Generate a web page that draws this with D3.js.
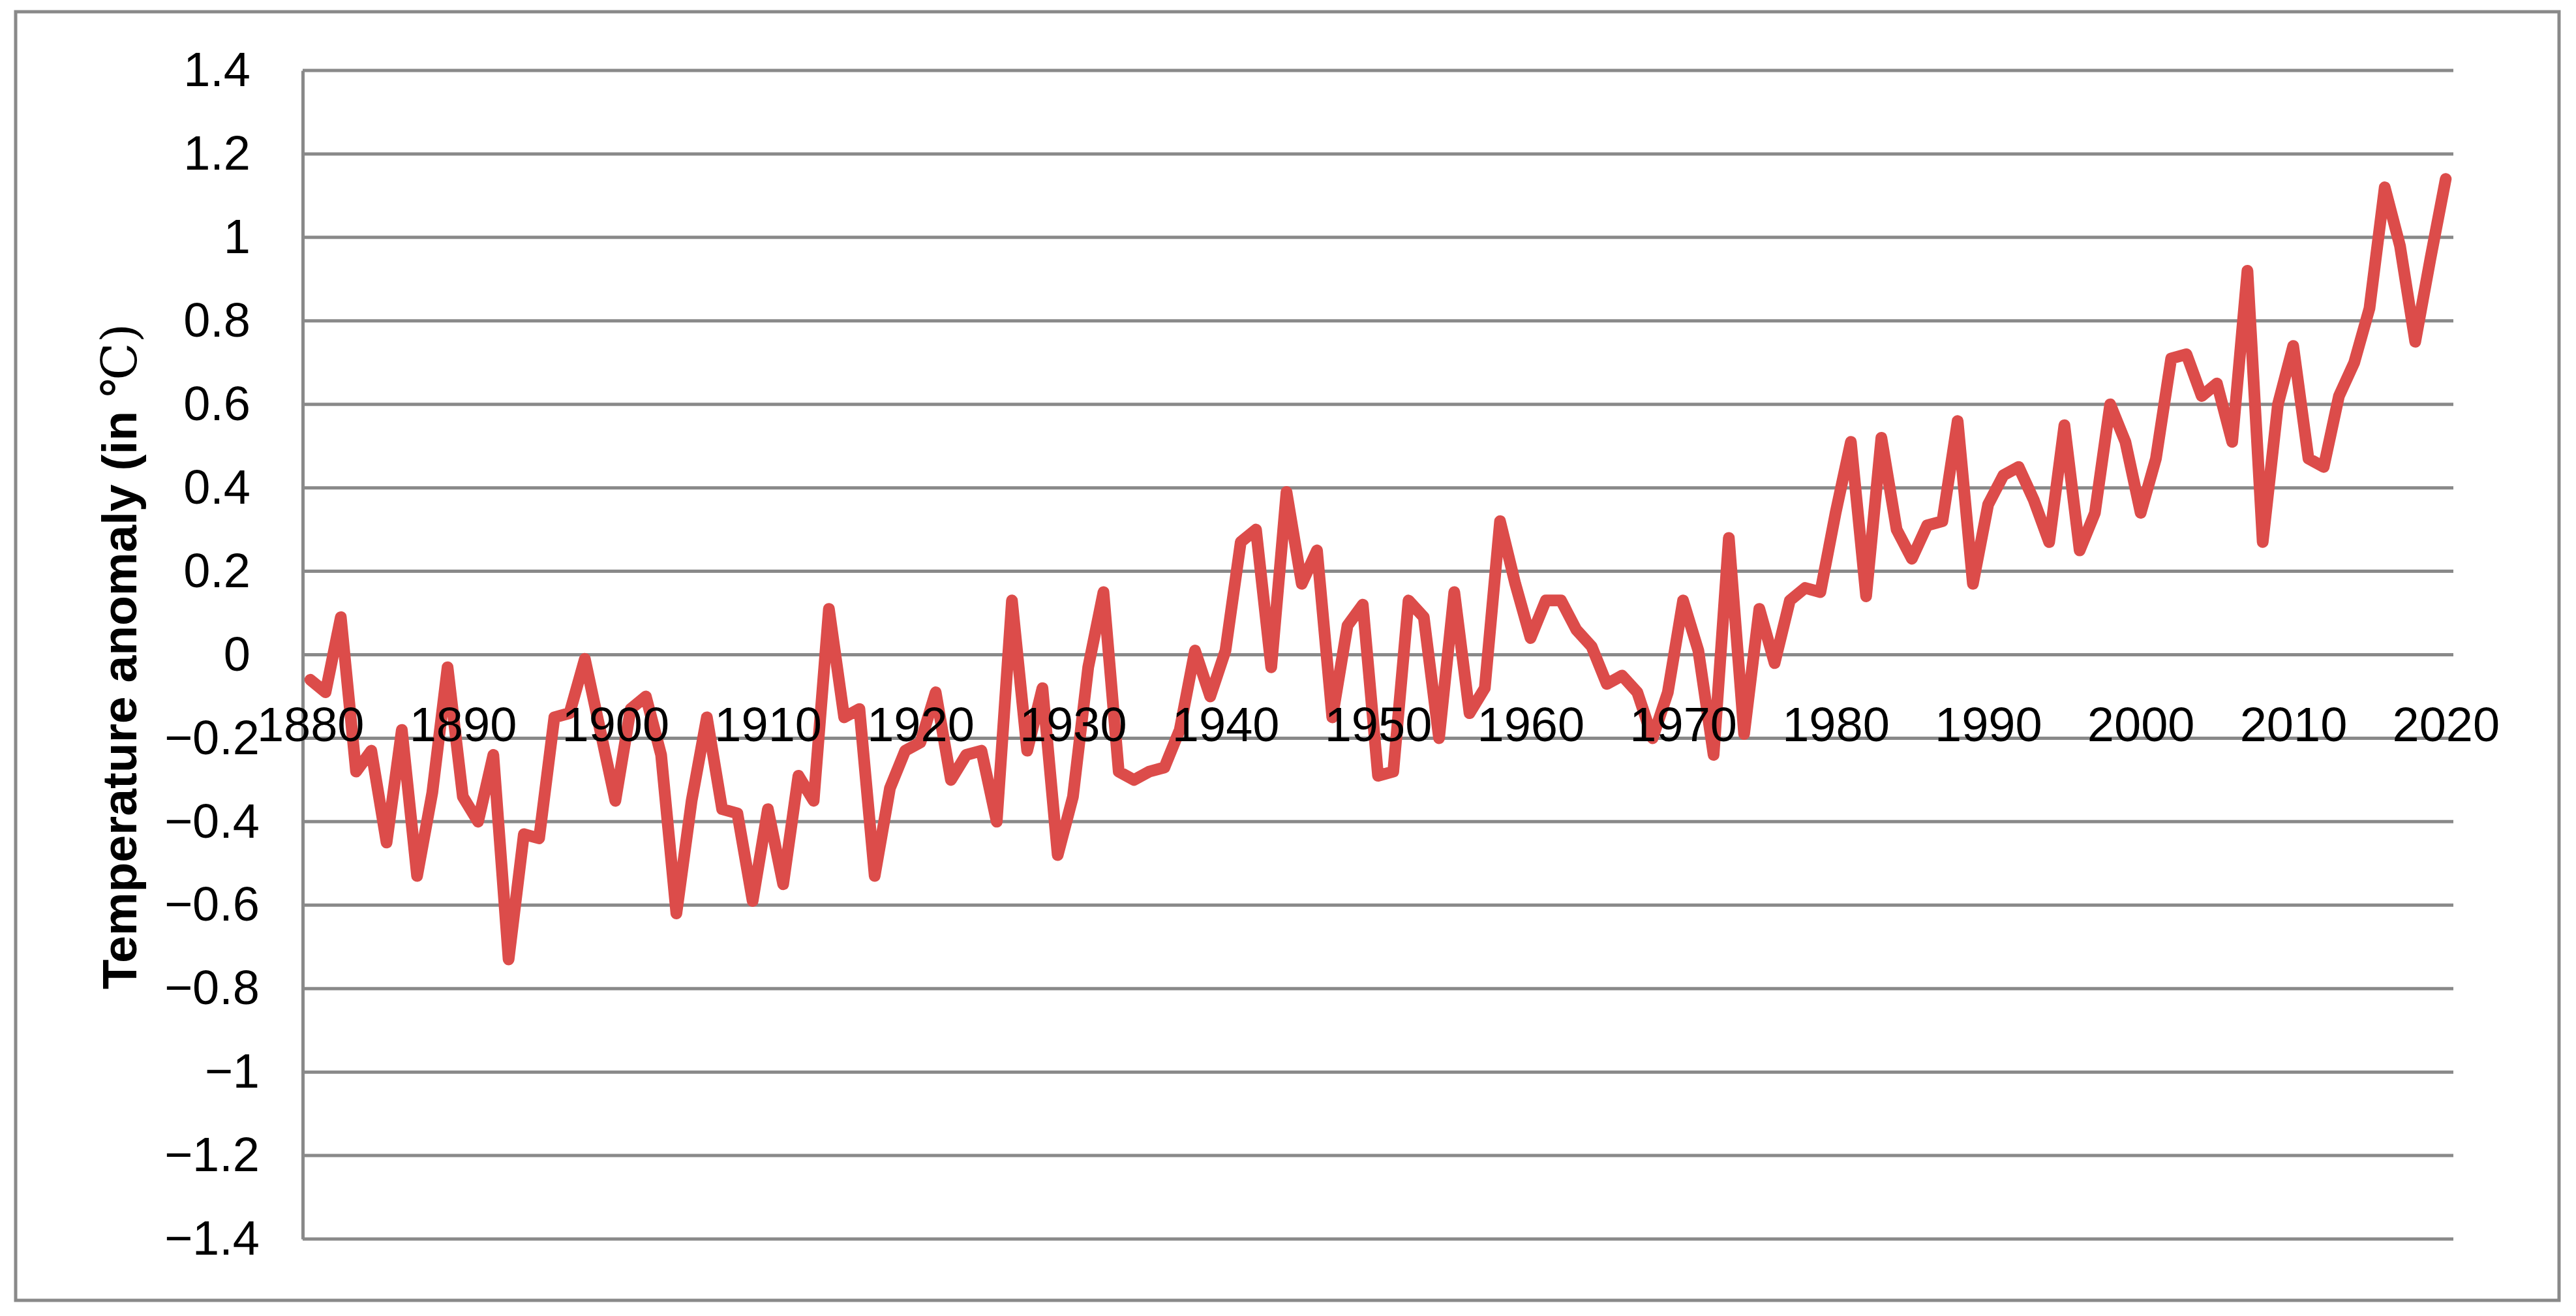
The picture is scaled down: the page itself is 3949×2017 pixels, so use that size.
<!DOCTYPE html>
<html>
<head>
<meta charset="utf-8">
<script src="https://cdn.jsdelivr.net/npm/d3@7"></script>
<style>
  html, body { margin: 0; padding: 0; background: #ffffff; }
  svg { display: block; }
</style>
</head>
<body>
<svg id="chart" width="3949" height="2017"></svg>
<script>
// ---- data ----
const years = [
  1880,1881,1882,1883,1884,1885,1886,1887,1888,1889,
  1890,1891,1892,1893,1894,1895,1896,1897,1898,1899,
  1900,1901,1902,1903,1904,1905,1906,1907,1908,1909,
  1910,1911,1912,1913,1914,1915,1916,1917,1918,1919,
  1920,1921,1922,1923,1924,1925,1926,1927,1928,1929,
  1930,1931,1932,1933,1934,1935,1936,1937,1938,1939,
  1940,1941,1942,1943,1944,1945,1946,1947,1948,1949,
  1950,1951,1952,1953,1954,1955,1956,1957,1958,1959,
  1960,1961,1962,1963,1964,1965,1966,1967,1968,1969,
  1970,1971,1972,1973,1974,1975,1976,1977,1978,1979,
  1980,1981,1982,1983,1984,1985,1986,1987,1988,1989,
  1990,1991,1992,1993,1994,1995,1996,1997,1998,1999,
  2000,2001,2002,2003,2004,2005,2006,2007,2008,2009,
  2010,2011,2012,2013,2014,2015,2016,2017,2018,2019,
  2020
];
const anomaly = [
  -0.06,-0.09, 0.09,-0.28,-0.23,-0.45,-0.18,-0.53,-0.33,-0.03,
  -0.34,-0.40,-0.24,-0.73,-0.43,-0.44,-0.15,-0.14,-0.01,-0.18,
  -0.35,-0.13,-0.10,-0.24,-0.62,-0.35,-0.15,-0.37,-0.38,-0.59,
  -0.37,-0.55,-0.29,-0.35, 0.11,-0.15,-0.13,-0.53,-0.32,-0.23,
  -0.21,-0.09,-0.30,-0.24,-0.23,-0.40, 0.13,-0.23,-0.08,-0.48,
  -0.34,-0.03, 0.15,-0.28,-0.30,-0.28,-0.27,-0.18, 0.01,-0.10,
   0.01, 0.27, 0.30,-0.03, 0.39, 0.17, 0.25,-0.15, 0.07, 0.12,
  -0.29,-0.28, 0.13, 0.09,-0.20, 0.15,-0.14,-0.08, 0.32, 0.17,
   0.04, 0.13, 0.13, 0.06, 0.02,-0.07,-0.05,-0.09,-0.20,-0.09,
   0.13, 0.01,-0.24, 0.28,-0.19, 0.11,-0.02, 0.13, 0.16, 0.15,
   0.34, 0.51, 0.14, 0.52, 0.30, 0.23, 0.31, 0.32, 0.56, 0.17,
   0.36, 0.43, 0.45, 0.37, 0.27, 0.55, 0.25, 0.34, 0.60, 0.51,
   0.34, 0.47, 0.71, 0.72, 0.62, 0.65, 0.51, 0.92, 0.27, 0.60,
   0.74, 0.47, 0.45, 0.62, 0.70, 0.83, 1.12, 0.98, 0.75, 0.95,
   1.14
];
const xTickLabels = [1880,1890,1900,1910,1920,1930,1940,1950,1960,1970,1980,1990,2000,2010,2020];
const yTickValues = [-1.4,-1.2,-1.0,-0.8,-0.6,-0.4,-0.2,0,0.2,0.4,0.6,0.8,1.0,1.2,1.4];
const yTitleMain = "Temperature anomaly (in ";
const yTitleUnit = "\u2103)";

// ---- layout ----
const W = 3949, H = 2017;
const plot = { left: 464, right: 3761, top: 108, bottom: 1899 };
const gridColor = "#898989";
const lineColor = "#DC4C4A";
const fontFamily = "'Liberation Sans', Arial, sans-serif";

const svg = d3.select("#chart");
svg.append("rect").attr("x", 0).attr("y", 0).attr("width", W).attr("height", H).attr("fill", "#fff");

// outer border
svg.append("rect")
  .attr("x", 24).attr("y", 18)
  .attr("width", 3923 - 24).attr("height", 1993 - 18)
  .attr("fill", "none").attr("stroke", gridColor).attr("stroke-width", 5);

const x = d3.scaleLinear().domain([years[0] - 0.5, years[years.length - 1] + 0.5]).range([plot.left, plot.right]);
const y = d3.scaleLinear().domain([-1.4, 1.4]).range([plot.bottom, plot.top]);

// gridlines
svg.append("g").selectAll("line").data(yTickValues).join("line")
  .attr("x1", plot.left).attr("x2", plot.right)
  .attr("y1", d => y(d)).attr("y2", d => y(d))
  .attr("stroke", gridColor).attr("stroke-width", 5);

// y axis
const fmt = v => Math.abs(v) < 1e-9 ? "0" : (v < 0 ? "\u2212" : "") + String(+Math.abs(v).toFixed(1));
const yAxis = svg.append("g").attr("transform", `translate(${plot.left},0)`)
  .call(d3.axisLeft(y).tickValues(yTickValues).tickFormat(fmt).tickSize(0).tickPadding(80));
yAxis.select(".domain").attr("stroke", gridColor).attr("stroke-width", 5);
yAxis.selectAll("text")
  .attr("font-family", fontFamily).attr("font-size", 74).attr("fill", "#000")
  .attr("x", d => d < 0 ? -66 : -80);

// line
const line = d3.line().x((d, i) => x(years[i])).y(d => y(d));
svg.append("path").datum(anomaly)
  .attr("d", line)
  .attr("fill", "none").attr("stroke", lineColor).attr("stroke-width", 18)
  .attr("stroke-linejoin", "round").attr("stroke-linecap", "round");

// x axis labels (at zero line)
const xAxis = svg.append("g").attr("transform", `translate(0,${y(0)})`)
  .call(d3.axisBottom(x).tickValues(xTickLabels).tickFormat(d3.format("d")).tickSize(0));
xAxis.select(".domain").remove();
xAxis.selectAll("text")
  .attr("font-family", fontFamily).attr("font-size", 74).attr("fill", "#000")
  .attr("y", 132).attr("dy", null);

// y title
const title = svg.append("text")
  .attr("transform", `translate(209,1006) rotate(-90)`)
  .attr("text-anchor", "middle")
  .attr("font-family", fontFamily).attr("font-weight", "bold").attr("font-size", 75)
  .attr("fill", "#000");
title.append("tspan").text(yTitleMain);
title.append("tspan")
  .attr("font-family", "'DejaVu Serif', 'Liberation Serif', serif")
  .attr("font-weight", "normal")
  .text(yTitleUnit);
</script>
</body>
</html>
